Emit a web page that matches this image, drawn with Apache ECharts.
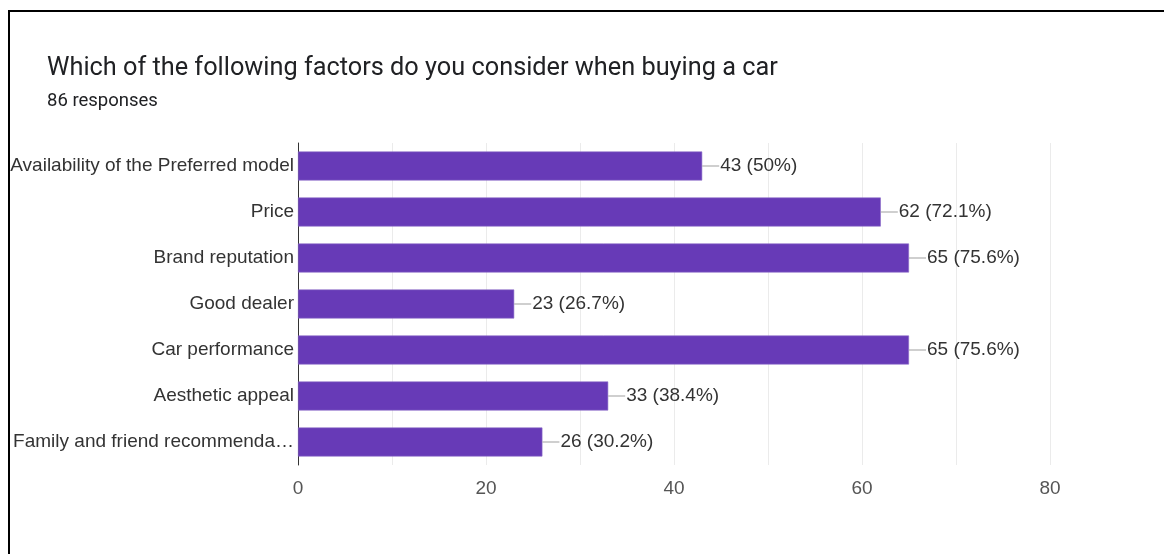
<!DOCTYPE html>
<html>
<head>
<meta charset="utf-8">
<script src="https://cdn.jsdelivr.net/npm/echarts@6/dist/echarts.min.js"></script>
<style>
  html, body { margin: 0; padding: 0; background: #fff; }
  #frame { position: absolute; left: 8px; top: 10px; width: 1156px; height: 544px;
           border-left: 2px solid #000; border-top: 2px solid #000; box-sizing: border-box; }
  #chart { position: absolute; left: 0; top: 0; width: 1164px; height: 554px; }
</style>
</head>
<body>
<div id="frame"></div>
<div id="chart"></div>
<script>
// Survey question and answer counts
const titleText = 'Which of the following factors do you consider when buying a car';
const subtitleText = '86 responses';
const categories = [
  'Availability of the Preferred model',
  'Price',
  'Brand reputation',
  'Good dealer',
  'Car performance',
  'Aesthetic appeal',
  'Family and friend recommendation'
];
const counts = [43, 62, 65, 23, 65, 33, 26];
const percents = ['50%', '72.1%', '75.6%', '26.7%', '75.6%', '38.4%', '30.2%'];
const xTicks = [0, 20, 40, 60, 80];

const chart = echarts.init(document.getElementById('chart'), null, { renderer: 'canvas' });

chart.setOption({
  backgroundColor: 'transparent',
  animation: false,
  title: [
    { text: titleText, left: 47, top: 56, padding: 0,
      textStyle: { fontFamily: 'Roboto', fontSize: 25.3, fontWeight: 'normal', color: '#202124' } },
    { text: subtitleText, left: 47, top: 92, padding: 0,
      textStyle: { fontFamily: 'Roboto', fontSize: 18.5, fontWeight: 'normal', color: '#202124' } }
  ],
  grid: { left: 298, right: 114, top: 143, bottom: 89, containLabel: false },
  xAxis: {
    type: 'value', min: 0, max: 80, interval: 10,
    axisLine: { show: false }, axisTick: { show: false },
    splitLine: { show: true, lineStyle: { color: '#ebebeb', width: 1 } },
    axisLabel: {
      margin: 14, fontFamily: 'Liberation Sans', fontSize: 19, color: '#555',
      formatter: v => xTicks.includes(v) ? String(v) : ''
    }
  },
  yAxis: {
    type: 'category', data: categories, inverse: true,
    axisLine: { show: true, lineStyle: { color: '#333', width: 1 } },
    axisTick: { show: false },
    axisLabel: {
      margin: 4, fontFamily: 'Liberation Sans', fontSize: 19, color: '#333',
      width: 285.5, overflow: 'truncate', ellipsis: '…'
    }
  },
  series: [{
    type: 'bar',
    data: counts,
    barCategoryGap: '37%',
    itemStyle: { color: '#673ab7', borderColor: '#8c6bc8', borderWidth: 0.6 },
    label: {
      show: true, position: 'right', distance: 0,
      formatter: p => '{l|}{t|' + counts[p.dataIndex] + ' (' + percents[p.dataIndex] + ')}',
      rich: {
        l: { width: 17, height: 1, backgroundColor: '#9e9e9e' },
        t: { fontFamily: 'Liberation Sans', fontSize: 19, color: '#333', padding: [0, 0, 0, 1] }
      }
    }
  }]
});
</script>
</body>
</html>
